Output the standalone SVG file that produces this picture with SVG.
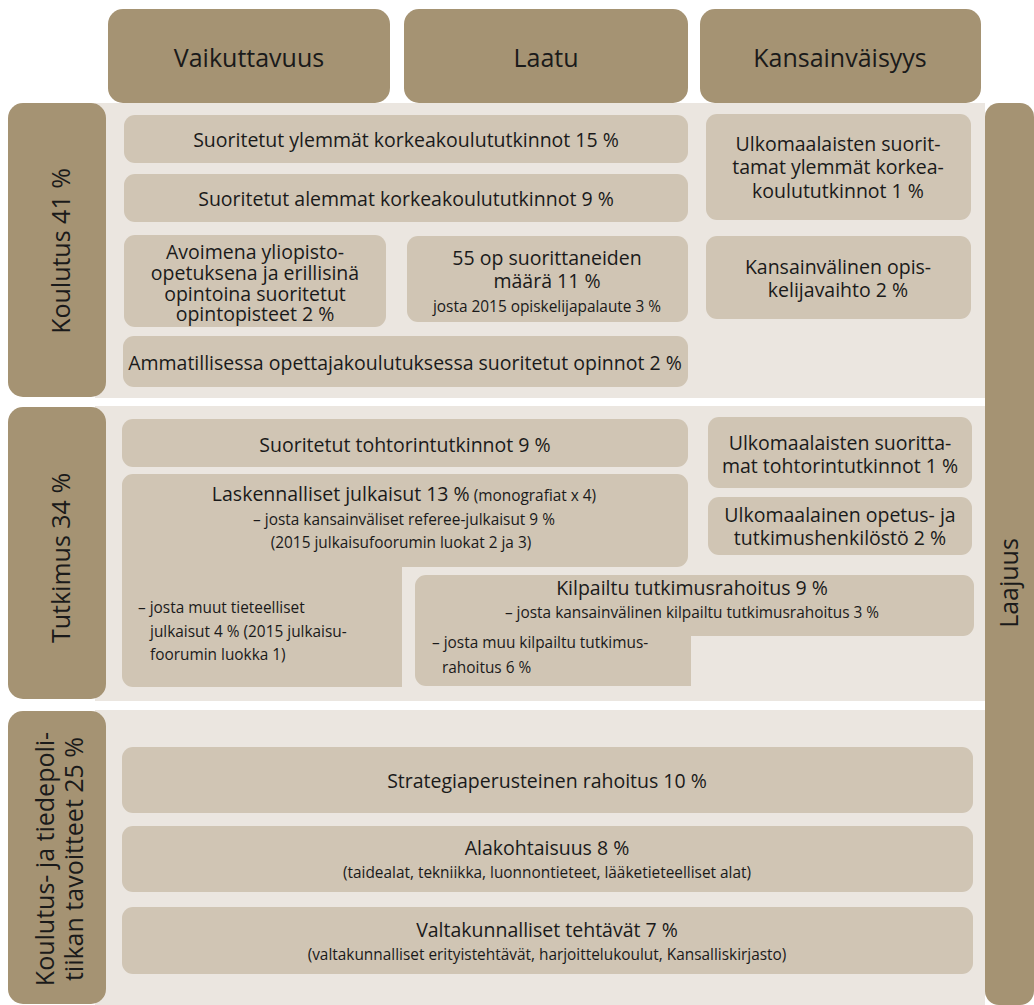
<svg xmlns="http://www.w3.org/2000/svg" width="1034" height="1005" viewBox="0 0 1034 1005">
<style>
.dk{fill:#a59373}
.pan{fill:#ebe6e0}
.bx{fill:#d0c5b4}
text{font-family:"Open Sans","Noto Sans","DejaVu Sans",sans-serif;fill:#1a1a1a}
.h{font-size:25px}
.m{font-size:19.5px}
.s{font-size:15.4px}
.c{text-anchor:middle}
</style>
<rect width="1034" height="1005" fill="#ffffff"/>
<g id="panels">
<rect class="pan" x="95" y="103" width="890" height="295"/>
<rect class="pan" x="95" y="406" width="890" height="295"/>
<rect class="pan" x="95" y="710" width="890" height="295"/>
</g>
<g id="hdr-vaikuttavuus"><rect class="dk" x="108" y="9" width="282" height="94" rx="15"/><text class="h c" x="249" y="67">Vaikuttavuus</text></g>
<g id="hdr-laatu"><rect class="dk" x="404" y="9" width="284" height="94" rx="15"/><text class="h c" x="546" y="67">Laatu</text></g>
<g id="hdr-kansainvaisyys"><rect class="dk" x="700" y="9" width="281" height="94" rx="15"/><text class="h c" x="840" y="67">Kansainväisyys</text></g>
<g id="lbl-laajuus"><rect class="dk" x="985" y="103" width="49" height="902" rx="14"/><text class="h c" transform="translate(1018,583) rotate(-90)">Laajuus</text></g>
<g id="lbl-koulutus"><rect class="dk" x="8" y="103" width="98" height="294" rx="15"/><text class="h c" transform="translate(70,251) rotate(-90)">Koulutus 41 %</text></g>
<g id="lbl-tutkimus"><rect class="dk" x="8" y="407" width="98" height="292" rx="15"/><text class="h c" transform="translate(70,558) rotate(-90)">Tutkimus 34 %</text></g>
<g id="lbl-tavoitteet"><rect class="dk" x="8" y="711" width="98" height="293" rx="15"/><text class="h c" transform="translate(54,859) rotate(-90)">Koulutus- ja tiedepoli-</text><text class="h c" transform="translate(83,859) rotate(-90)">tiikan tavoitteet 25 %</text></g>

<g id="n-ylemmat"><rect class="bx" x="124" y="115" width="564" height="48" rx="11"/><text class="m c" x="406" y="147">Suoritetut ylemmät korkeakoulututkinnot 15 %</text></g>
<g id="n-alemmat"><rect class="bx" x="124" y="174" width="564" height="48" rx="11"/><text class="m c" x="406" y="206">Suoritetut alemmat korkeakoulututkinnot 9 %</text></g>
<g id="n-avoimena"><rect class="bx" x="124" y="235" width="262" height="92" rx="11"/>
<text class="m c" x="255" y="259">Avoimena yliopisto-</text>
<text class="m c" x="255" y="280">opetuksena ja erillisinä</text>
<text class="m c" x="255" y="301">opintoina suoritetut</text>
<text class="m c" x="255" y="321">opintopisteet 2 %</text></g>
<g id="n-55op"><rect class="bx" x="407" y="236" width="281" height="86" rx="11"/>
<text class="m c" x="547" y="265">55 op suorittaneiden</text>
<text class="m c" x="547" y="288">määrä 11 %</text>
<text class="s c" x="547" y="312">josta 2015 opiskelijapalaute 3 %</text></g>
<g id="n-ulk-ylemmat"><rect class="bx" x="706" y="114" width="265" height="106" rx="11"/>
<text class="m c" x="838" y="151">Ulkomaalaisten suorit-</text>
<text class="m c" x="838" y="174">tamat ylemmät korkea-</text>
<text class="m c" x="838" y="198">koulututkinnot 1 %</text></g>
<g id="n-vaihto"><rect class="bx" x="706" y="236" width="265" height="83" rx="11"/>
<text class="m c" x="838" y="274">Kansainvälinen opis-</text>
<text class="m c" x="838" y="297">kelijavaihto 2 %</text></g>
<g id="n-ammatillinen"><rect class="bx" x="123" y="336" width="565" height="51" rx="11"/><text class="m c" x="405" y="370">Ammatillisessa opettajakoulutuksessa suoritetut opinnot 2 %</text></g>

<g id="n-tohtori"><rect class="bx" x="122" y="419" width="566" height="48" rx="11"/><text class="m c" x="405" y="452">Suoritetut tohtorintutkinnot 9 %</text></g>
<g id="n-julkaisut"><path class="bx" d="M133,474 H677 A11,11 0 0 1 688,485 V556 A11,11 0 0 1 677,567 H402 V687 H133 A11,11 0 0 1 122,676 V485 A11,11 0 0 1 133,474 Z"/>
<text class="m c" x="404" y="501">Laskennalliset julkaisut 13 %<tspan class="s"> (monografiat x 4)</tspan></text>
<text class="s c" x="404" y="525">– josta kansainväliset referee-julkaisut 9 %</text>
<text class="s c" x="401" y="548">(2015 julkaisufoorumin luokat 2 ja 3)</text>
<text class="s" x="138" y="613">– josta muut tieteelliset</text>
<text class="s" x="150" y="637">julkaisut 4 % (2015 julkaisu-</text>
<text class="s" x="150" y="660">foorumin luokka 1)</text></g>
<g id="n-ulk-tohtori"><rect class="bx" x="708" y="417" width="264" height="71" rx="11"/>
<text class="m c" x="840" y="450">Ulkomaalaisten suoritta-</text>
<text class="m c" x="840" y="473">mat tohtorintutkinnot 1 %</text></g>
<g id="n-henkilosto"><rect class="bx" x="708" y="497" width="264" height="58" rx="11"/>
<text class="m c" x="840" y="522">Ulkomaalainen opetus- ja</text>
<text class="m c" x="840" y="545">tutkimushenkilöstö 2 %</text></g>
<g id="n-kilpailtu"><path class="bx" d="M426,575 H963 A11,11 0 0 1 974,586 V625 A11,11 0 0 1 963,636 H691 V686 H426 A11,11 0 0 1 415,675 V586 A11,11 0 0 1 426,575 Z"/>
<text class="m c" x="692" y="595">Kilpailtu tutkimusrahoitus 9 %</text>
<text class="s c" x="692" y="618">– josta kansainvälinen kilpailtu tutkimusrahoitus 3  %</text>
<text class="s" x="432" y="648">– josta muu kilpailtu tutkimus-</text>
<text class="s" x="442" y="673">rahoitus 6 %</text></g>

<g id="n-strategia"><rect class="bx" x="122" y="747" width="851" height="66" rx="11"/><text class="m c" x="547" y="788">Strategiaperusteinen rahoitus 10 %</text></g>
<g id="n-alakohtaisuus"><rect class="bx" x="122" y="826" width="851" height="66" rx="11"/>
<text class="m c" x="547" y="855">Alakohtaisuus 8 %</text>
<text class="s c" x="547" y="878">(taidealat, tekniikka, luonnontieteet, lääketieteelliset alat)</text></g>
<g id="n-valtakunnalliset"><rect class="bx" x="122" y="907" width="851" height="67" rx="11"/>
<text class="m c" x="547" y="937">Valtakunnalliset tehtävät 7 %</text>
<text class="s c" x="547" y="960">(valtakunnalliset erityistehtävät, harjoittelukoulut, Kansalliskirjasto)</text></g>
</svg>
